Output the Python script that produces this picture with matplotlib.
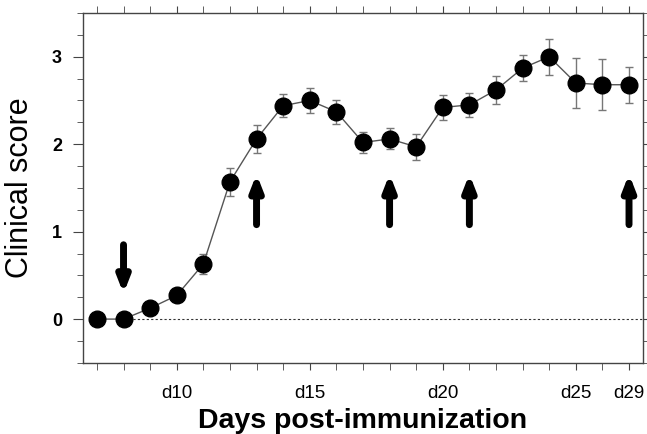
import numpy as np
import matplotlib
matplotlib.use("Agg")
import matplotlib.pyplot as plt
from matplotlib.ticker import MultipleLocator

plt.rcParams['font.family'] = ['Liberation Sans', 'DejaVu Sans']

# clinical score per time point (equally spaced on the axis)
score = [0.0, 0.0, 0.125, 0.27, 0.63, 1.57, 2.06, 2.44, 2.50, 2.37, 2.02,
         2.06, 1.97, 2.42, 2.45, 2.62, 2.87, 3.00, 2.70, 2.68, 2.68]
sem = [0.0, 0.0, 0.05, 0.08, 0.12, 0.16, 0.155, 0.13, 0.14, 0.135, 0.125,
       0.12, 0.15, 0.14, 0.14, 0.155, 0.145, 0.205, 0.29, 0.29, 0.205]

tick_pos = [3, 8, 13, 18, 20]
tick_labels = ["d10", "d15", "d20", "d25", "d29"]

down_arrow = [1]
up_arrows = [6, 11, 14, 20]

x = np.arange(len(score))

fig = plt.figure(figsize=(6.47, 4.34), dpi=100)
ax = fig.add_axes([0.128, 0.164, 0.866, 0.806])

ax.hlines(0, 1, 20.6, colors="#333333", linestyles=(0, (2, 2)), linewidth=0.8, zorder=1)
ax.errorbar(x, score, yerr=sem, fmt="-", color="#555555", linewidth=1.0,
            ecolor="#777777", elinewidth=1.0, capsize=3, capthick=1.0, zorder=2)
ax.plot(x, score, "o", color="black", markersize=12, zorder=3)

for xi in down_arrow:
    ax.annotate("", xy=(xi, 0.29), xytext=(xi, 0.85),
                arrowprops=dict(arrowstyle="-|>,head_width=0.35,head_length=0.9",
                                color="black", linewidth=5, shrinkA=0, shrinkB=0))
for xi in up_arrows:
    ax.annotate("", xy=(xi, 1.66), xytext=(xi, 1.08),
                arrowprops=dict(arrowstyle="-|>,head_width=0.35,head_length=0.9",
                                color="black", linewidth=5, shrinkA=0, shrinkB=0))

ax.set_xlim(-0.53, 20.53)
ax.set_ylim(-0.5, 3.5)

ax.set_xticks(x, minor=True)
ax.set_xticks(tick_pos)
ax.set_xticklabels(tick_labels, fontsize=13.5)
ax.set_yticks([0, 1, 2, 3])
ax.set_yticklabels(["0", "1", "2", "3"], fontsize=13, fontweight="bold")
ax.yaxis.set_minor_locator(MultipleLocator(0.25))

ax.tick_params(axis="both", which="both", direction="out", colors="#444444",
               top=True, right=True, labelcolor="black")
ax.tick_params(axis="x", which="major", length=5, pad=11)
ax.tick_params(axis="x", which="minor", length=5)
ax.tick_params(axis="y", which="major", length=7, pad=8)
ax.tick_params(axis="y", which="minor", length=4)

for s in ax.spines.values():
    s.set_color("#444444")
    s.set_linewidth(1.0)

ax.set_ylabel("Clinical score", fontsize=22, labelpad=12)
ax.set_xlabel("Days post-immunization", fontsize=20.5, fontweight="bold", labelpad=4)

fig.savefig("out.png", dpi=100)
